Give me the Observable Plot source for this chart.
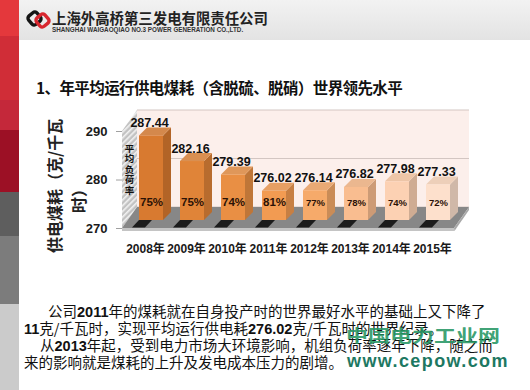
<!DOCTYPE html>
<html>
<head>
<meta charset="utf-8">
<script src="https://cdn.jsdelivr.net/npm/d3@7"></script>
<script src="https://cdn.jsdelivr.net/npm/@observablehq/plot@0.6"></script>
<style>
html,body{margin:0;padding:0;}
body{width:530px;height:390px;position:relative;overflow:hidden;background:#fff;font-family:"Noto Sans CJK SC",sans-serif;color:#111;}
.abs{position:absolute;white-space:nowrap;}
#strip{left:0;top:0;width:19px;height:390px;background:linear-gradient(to bottom,#e4383c 0,#e4383c 36px,#d02d37 36px,#d02d37 100px,#c4283a 100px,#c4283a 130px,#9c1025 130px,#9c1025 192px,#5e5e5e 192px,#5e5e5e 236px,#7c7c7c 236px,#7c7c7c 304px,#cbcbcb 304px);}
#header{left:19px;top:0;width:511px;height:40px;background:linear-gradient(to bottom,#f2f2f2,#e3e3e3);}
#cname{left:52px;top:8.5px;font-size:14.4px;line-height:17px;font-weight:bold;color:#222;}
#ename{left:52px;top:26px;font-family:"Liberation Sans",Arial,sans-serif;font-size:6.3px;line-height:7px;font-weight:bold;color:#333;}
#title{left:36px;top:78px;font-size:15.5px;line-height:1.2;font-weight:bold;letter-spacing:-0.6px;color:#111;}
#ylabel{left:42px;top:253px;transform-origin:0 0;transform:rotate(-90deg);font-size:16px;line-height:24px;font-weight:bold;color:#222;}
#chart{left:80px;top:100px;}
.para{font-size:14.5px;line-height:17px;color:#111;}
.para b{font-family:"Liberation Sans",Arial,sans-serif;}
.just{text-align:justify;text-align-last:justify;}
#wm1{left:346px;top:323px;font-size:22px;line-height:1;font-weight:bold;color:rgba(38,150,100,0.9);transform:scaleY(0.8);}
#wm2{left:347px;top:352px;font-family:"Liberation Sans",Arial,sans-serif;font-size:18px;line-height:1;font-weight:bold;letter-spacing:1.4px;color:#1d7862;}
#chart svg g[aria-label="y-axis tick"], #chart svg .tick line{stroke:#a0a0a0;}
#chart svg g[aria-label^="x-axis"] text{font-size:12px;}
</style>
</head>
<body>
<div id="strip" class="abs"></div>
<div id="header" class="abs"></div>
<svg class="abs" style="left:26px;top:9px" width="26" height="22" viewBox="0 0 26 22">
  <rect x="3" y="4" width="11" height="11" rx="3" transform="rotate(-40 8.5 9.5)" fill="none" stroke="#151515" stroke-width="3.4"/>
  <rect x="11" y="6" width="11" height="11" rx="3" transform="rotate(-40 16.5 11.5)" fill="none" stroke="#d8262e" stroke-width="3.4"/>
</svg>
<div id="cname" class="abs">上海外高桥第三发电有限责任公司</div>
<div id="ename" class="abs">SHANGHAI WAIGAOQIAO NO.3 POWER GENERATION CO.,LTD.</div>
<div id="title" class="abs">1、年平均运行供电煤耗（含脱硫、脱硝）世界领先水平</div>
<div id="ylabel" class="abs"><div>供电煤耗（克/千瓦</div><div style="padding-left:40px">时）</div></div>
<div id="chart" class="abs"></div>
<div class="abs para just" style="left:48px;top:302px;width:437px;">公司<b>2011</b>年的煤耗就在自身投产时的世界最好水平的基础上又下降了</div>
<div class="abs para" style="left:24px;top:319px;"><b>11</b>克/千瓦时，实现平均运行供电耗<b>276.02</b>克/千瓦时的世界纪录。</div>
<div class="abs para just" style="left:40px;top:336px;width:452px;">从<b>2013</b>年起，受到电力市场大环境影响，机组负荷率逐年下降，随之而</div>
<div class="abs para" style="left:24px;top:352.5px;">来的影响就是煤耗的上升及发电成本压力的剧增。</div>
<div id="wm1" class="abs">中国电力工业网</div>
<div id="wm2" class="abs">www.cepow.com</div>
<script>
// ---- data ----
const years = ["2008年","2009年","2010年","2011年","2012年","2013年","2014年","2015年"];
const coalRate = [287.44, 282.16, 279.39, 276.02, 276.14, 276.82, 277.98, 277.33];
const loadRate = [75, 75, 74, 81, 77, 78, 74, 72];
const yTicks = [270, 280, 290];
const yDomain = [270, 290];
const loadLabel = "平均负荷率";

// ---- styles ----
const barColors = ["#d87a30","#e08438","#e98f44","#f29b52","#f6aa6a","#f9bd90","#fcd1b3","#fde0cc"];
const WX = 15, WY = 21;   // wall depth
const BX = 6, BY = 8;     // bar front offset
const DX = 8, DY = 8;     // bar depth

const data = years.map((year, i) => ({year, value: coalRate[i], load: loadRate[i], i}));

const NS = "http://www.w3.org/2000/svg";
function el(name, attrs = {}) {
  const e = document.createElementNS(NS, name);
  for (const k in attrs) e.setAttribute(k, attrs[k]);
  return e;
}
function poly(pts, fill) {
  return el("polygon", {points: pts.map(p => p.join(",")).join(" "), fill});
}

function room(index, scales, values, dim) {
  const {x, y} = scales;
  const L = dim.marginLeft, R = dim.width - dim.marginRight;
  const y0 = y(yDomain[0]), y1 = y(yDomain[1]);
  const g = el("g");
  const defs = el("defs");
  const pat = el("pattern", {id: "hatch", width: 4, height: 4, patternUnits: "userSpaceOnUse", patternTransform: "rotate(45)"});
  pat.append(el("rect", {width: 4, height: 4, fill: "#c2c2c2"}));
  pat.append(el("rect", {width: 1.6, height: 4, fill: "#f2f2f2"}));
  defs.append(pat);
  g.append(defs);
  // back wall
  g.append(poly([[L+WX, y1-WY],[R+WX, y1-WY],[R+WX, y0-WY],[L+WX, y0-WY]], "#fcefeb"));
  for (const t of yTicks) {
    g.append(el("line", {x1: L+WX, x2: R+WX, y1: y(t)-WY, y2: y(t)-WY, stroke: "#d3c6c2"}));
  }
  // left wall
  g.append(poly([[L, y1],[L+WX, y1-WY],[L+WX, y0-WY],[L, y0]], "url(#hatch)"));
  // floor
  g.append(poly([[L, y0],[L+WX, y0-WY],[R+WX, y0-WY],[R, y0]], "#878787"));
  g.append(poly([[L, y0],[R, y0],[R+0.5, y0+3],[L, y0+3]], "#c4c4c4"));
  g.append(poly([[R, y0],[R+WX, y0-WY],[R+WX, y0-WY+3],[R+0.5, y0+3]], "#a8a8a8"));
  // shadows of bars on the floor
  for (const d of data) {
    const bx = x(d.year) + BX, yb = y0 - BY;
    g.append(poly([[bx, yb],[bx+13, yb],[bx+6, y0-0.5],[bx-7, y0-0.5]], "#1c1c1c"));
  }
  return g;
}

function barFaces(index, scales, values, dim) {
  const {x, y} = scales;
  const bw = x.bandwidth();
  const g = el("g");
  for (const d of data) {
    const c = barColors[d.i];
    const x0 = x(d.year) + BX, x1 = x0 + bw;
    const yt = y(d.value) - BY, yb = y(yDomain[0]) - BY;
    const top = d3.interpolateRgb(c, "#c9a88c")(0.3);
    const side = d3.color(c).darker(0.55).formatHex();
    g.append(poly([[x1, yt],[x1+DX, yt-DY],[x1+DX, yb-DY],[x1, yb]], side));
    g.append(poly([[x0, yt],[x1, yt],[x1+DX, yt-DY],[x0+DX, yt-DY]], top));
  }
  return g;
}

const chart = Plot.plot({
  width: 410,
  height: 165,
  marginLeft: 42,
  marginRight: 36,
  marginTop: 31,
  marginBottom: 37,
  style: {
    background: "transparent",
    color: "#1a1a1a",
    fontFamily: "'Liberation Sans',Arial,'Noto Sans CJK SC',sans-serif",
    fontSize: "13px",
    fontWeight: "bold"
  },
  x: {domain: years, paddingInner: 0.42, paddingOuter: 0.21, tickSize: 0, tickPadding: 16, label: null},
  y: {domain: yDomain, ticks: yTicks, tickSize: 6, tickPadding: 9, label: null},
  color: {type: "identity"},
  marks: [
    room,
    barFaces,
    Plot.barY(data, {x: "year", y1: yDomain[0], y2: "value", fill: d => barColors[d.i], dx: BX, dy: -BY}),
    Plot.text(data, {x: "year", y: "value", text: d => d.value.toFixed(2), dx: 4, dy: -21, lineAnchor: "middle", fontSize: 12.5, fill: "#111"}),
    Plot.text(data, {x: "year", y: yDomain[0], text: d => d.load + "%", dx: BX, dy: -26, lineAnchor: "middle", fontSize: d => d.i < 4 ? 11.5 : 9.5, fill: "#2b1206"}),
    Plot.text([loadLabel], {text: d => [...d].join("\n"), frameAnchor: "top-left", dx: 7, dy: 13, lineAnchor: "top", textAnchor: "middle", fontSize: 9.5, lineHeight: 1.1, fill: "#111", fontFamily: "'Noto Sans CJK SC',sans-serif"})
  ]
});
document.getElementById("chart").append(chart);
</script>
</body>
</html>
